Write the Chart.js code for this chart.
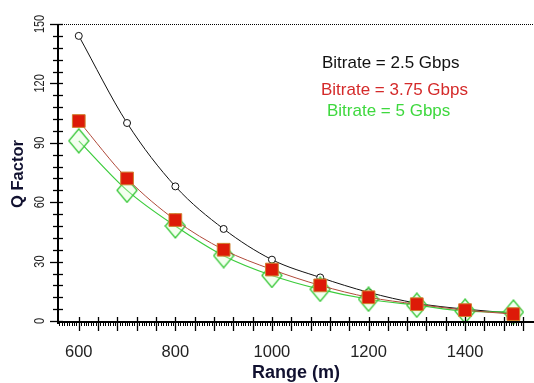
<!DOCTYPE html>
<html>
<head>
<meta charset="utf-8">
<script src="https://cdn.jsdelivr.net/npm/chart.js@4/dist/chart.umd.min.js"></script>
<style>
  html, body { margin: 0; padding: 0; background: #fff; overflow: hidden; }
  #wrap { width: 534px; height: 383px; position: relative; }
</style>
</head>
<body>
<div id="wrap"><canvas id="qChart" width="534" height="383"></canvas></div>
<script>
// Q factor vs. range for three bitrates
const ranges = [600, 700, 800, 900, 1000, 1100, 1200, 1300, 1400, 1500];
const q25 = [144, 100, 68, 46.5, 31, 22, 14.5, 9, 6, 4];
const q375 = [101, 72, 51, 36, 26, 18, 12, 8.5, 5.5, 3.5];
const q5 = [91, 66, 48, 33, 23, 16, 11, 8, 5, 4.5];

const seriesNames = ['Bitrate = 2.5 Gbps', 'Bitrate = 3.75 Gbps', 'Bitrate = 5 Gbps'];
const xTickLabels = [600, 800, 1000, 1200, 1400];
const yTickLabels = [0, 30, 60, 90, 120, 150];

function toPoints(ys) {
  return ranges.map((x, i) => ({ x: x, y: ys[i] }));
}

// tall open diamond used for the 5 Gbps markers
const diamond = document.createElement('canvas');
diamond.width = 22;
diamond.height = 26;
(function () {
  const c = diamond.getContext('2d');
  c.beginPath();
  c.moveTo(11, 1);
  c.lineTo(21, 13);
  c.lineTo(11, 25);
  c.lineTo(1, 13);
  c.closePath();
  c.fillStyle = 'rgba(220,255,210,0.35)';
  c.fill();
  c.strokeStyle = '#38c838';
  c.lineWidth = 1.3;
  c.stroke();
})();

const FONT = '"Liberation Sans", Arial, sans-serif';

// axes, ticks, labels and the text legend are painted by hand
const axisPainter = {
  id: 'axisPainter',
  afterDraw(chart) {
    const ctx = chart.ctx;
    const xs = chart.scales.x;
    const ys = chart.scales.y;
    const area = chart.chartArea;
    const xAxisY = 322;
    ctx.save();

    // dotted top frame
    ctx.strokeStyle = '#000';
    ctx.lineWidth = 1;
    ctx.setLineDash([1, 1]);
    ctx.beginPath();
    ctx.moveTo(area.left, area.top + 0.5);
    ctx.lineTo(chart.width, area.top + 0.5);
    ctx.stroke();
    ctx.setLineDash([]);

    // y axis
    ctx.lineWidth = 2;
    ctx.beginPath();
    ctx.moveTo(area.left, area.top);
    ctx.lineTo(area.left, xAxisY + 2);
    ctx.stroke();
    ctx.lineWidth = 1.3;
    for (let v = 0; v <= 150; v += 6) {
      const py = Math.round(ys.getPixelForValue(v)) + 0.5;
      const major = v % 30 === 0;
      ctx.beginPath();
      ctx.moveTo(area.left - (major ? 8 : 5), py);
      ctx.lineTo(area.left + 5, py);
      ctx.stroke();
    }

    // x axis: main line, fine tick row and major ticks
    ctx.lineWidth = 2;
    ctx.beginPath();
    ctx.moveTo(area.left, xAxisY);
    ctx.lineTo(chart.width, xAxisY);
    ctx.stroke();
    ctx.lineWidth = 1;
    for (let v = 560; v <= 1520; v += 5) {
      const px = Math.round(xs.getPixelForValue(v)) + 0.5;
      if (px < area.left) continue;
      ctx.beginPath();
      ctx.moveTo(px, xAxisY);
      ctx.lineTo(px, xAxisY + 4);
      ctx.stroke();
    }
    ctx.lineWidth = 1.3;
    for (let v = 600; v <= 1520; v += 40) {
      const px = Math.round(xs.getPixelForValue(v)) + 0.5;
      ctx.beginPath();
      ctx.moveTo(px, xAxisY - 5);
      ctx.lineTo(px, xAxisY + 9);
      ctx.stroke();
    }

    // tick labels
    ctx.fillStyle = '#222';
    ctx.font = '16.5px ' + FONT;
    ctx.textAlign = 'center';
    ctx.textBaseline = 'alphabetic';
    xTickLabels.forEach(v => {
      ctx.fillText(String(v), xs.getPixelForValue(v), 357);
    });
    ctx.font = '14px ' + FONT;
    ctx.textBaseline = 'middle';
    yTickLabels.forEach(v => {
      ctx.save();
      ctx.translate(40, ys.getPixelForValue(v));
      ctx.rotate(-Math.PI / 2);
      ctx.scale(0.78, 1);
      ctx.fillText(String(v), 0, 0);
      ctx.restore();
    });

    // axis titles
    ctx.fillStyle = '#111130';
    ctx.font = 'bold 18px ' + FONT;
    ctx.textBaseline = 'alphabetic';
    ctx.fillText('Range (m)', (area.left + chart.width) / 2, 378);
    ctx.save();
    ctx.translate(18, (area.top + area.bottom) / 2);
    ctx.rotate(-Math.PI / 2);
    ctx.font = 'bold 16.5px ' + FONT;
    ctx.textBaseline = 'middle';
    ctx.fillText('Q Factor', 0, 0);
    ctx.restore();

    // legend text
    const legendColors = ['#111', '#d42a2a', '#3ed83e'];
    const legendPos = [[322, 68], [321, 95], [327, 116]];
    ctx.font = '17px ' + FONT;
    ctx.textAlign = 'left';
    seriesNames.forEach((name, i) => {
      ctx.fillStyle = legendColors[i];
      ctx.fillText(name, legendPos[i][0], legendPos[i][1]);
    });

    ctx.restore();
  }
};

const ctx = document.getElementById('qChart').getContext('2d');
const qChart = new Chart(ctx, {
  type: 'line',
  data: {
    datasets: [{
      label: seriesNames[0],
      data: toPoints(q25),
      borderColor: '#111',
      borderWidth: 1,
      cubicInterpolationMode: 'monotone',
      pointStyle: 'circle',
      pointRadius: 3.5,
      pointBackgroundColor: '#fff',
      pointBorderColor: '#111',
      pointBorderWidth: 1,
      order: 3
    }, {
      label: seriesNames[1],
      data: toPoints(q375),
      borderColor: '#b04a3a',
      borderWidth: 1,
      cubicInterpolationMode: 'monotone',
      pointStyle: 'rect',
      pointRadius: 9,
      pointBackgroundColor: '#dd1a08',
      pointBorderColor: '#d08030',
      pointBorderWidth: 1,
      order: 1
    }, {
      label: seriesNames[2],
      data: toPoints(q5),
      borderColor: '#3ccc3c',
      borderWidth: 1.2,
      cubicInterpolationMode: 'monotone',
      pointStyle: diamond,
      order: 2
    }]
  },
  options: {
    responsive: false,
    animation: false,
    events: [],
    clip: false,
    layout: {
      padding: { left: 58, top: 24, right: 0, bottom: 59 }
    },
    plugins: {
      legend: { display: false },
      tooltip: { enabled: false }
    },
    scales: {
      x: {
        type: 'linear',
        display: false,
        min: 557,
        max: 1522
      },
      y: {
        display: false,
        min: -1.5,
        max: 150
      }
    }
  },
  plugins: [axisPainter]
});
</script>
</body>
</html>
